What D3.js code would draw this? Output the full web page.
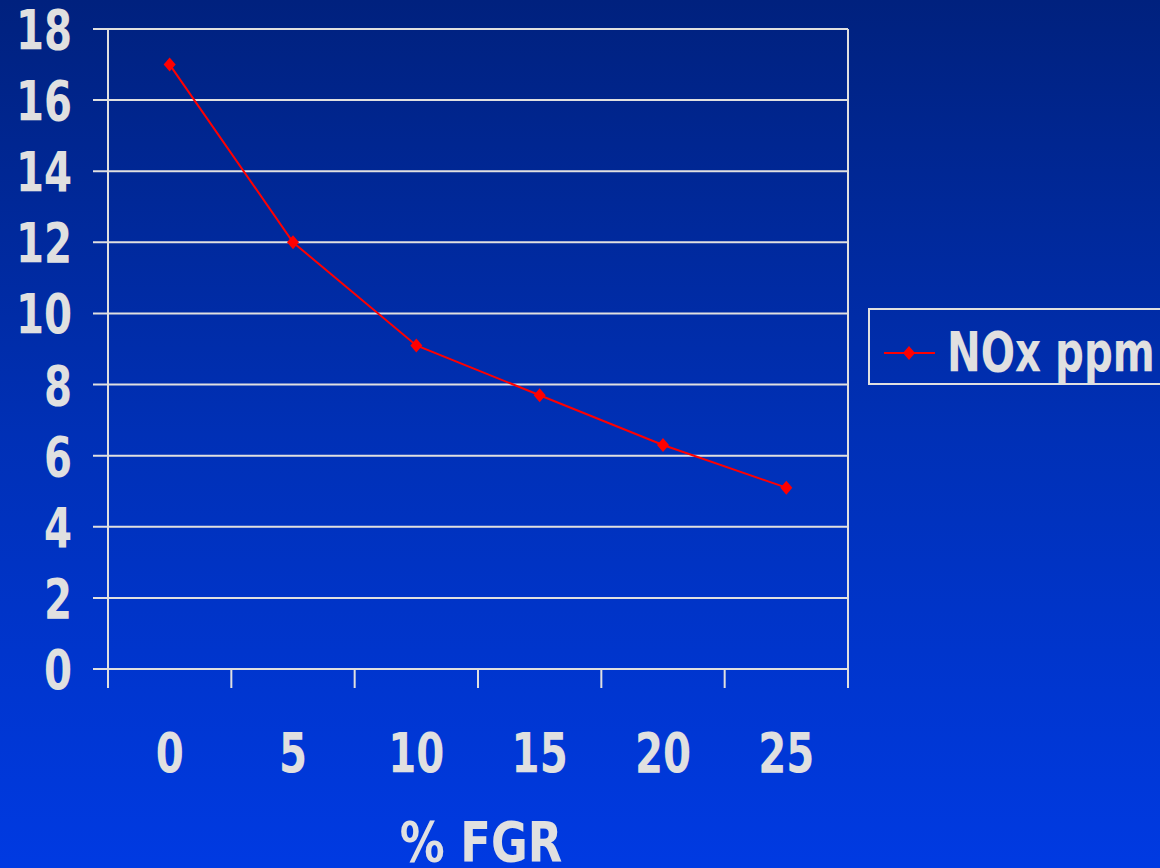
<!DOCTYPE html>
<html>
<head>
<meta charset="utf-8">
<script src="https://cdn.jsdelivr.net/npm/d3@7/dist/d3.min.js"></script>
<style>
  html, body { margin: 0; padding: 0; overflow: hidden; }
  svg { display: block; }
</style>
</head>
<body>
<script>
// NOx emissions versus flue gas recirculation
const categories = ["0", "5", "10", "15", "20", "25"];
const noxValues = [17.0, 12.0, 9.1, 7.7, 6.3, 5.1];
const yTicks = [0, 2, 4, 6, 8, 10, 12, 14, 16, 18];
const seriesName = "NOx ppm";
const xTitle = "% FGR";

const W = 1160, H = 868;
const plot = { left: 108, right: 848, top: 29, bottom: 669 };
const ink = "#e0e0e0";
const font = "'DejaVu Sans', Verdana, sans-serif";

const svg = d3.select("body").append("svg").attr("width", W).attr("height", H);

const defs = svg.append("defs");
const grad = defs.append("linearGradient").attr("id", "bg").attr("x1", 0).attr("y1", 0).attr("x2", 0).attr("y2", 1);
grad.append("stop").attr("offset", "0%").attr("stop-color", "#00217e");
grad.append("stop").attr("offset", "50%").attr("stop-color", "#0030b6");
grad.append("stop").attr("offset", "100%").attr("stop-color", "#003ae2");
svg.append("rect").attr("width", W).attr("height", H).attr("fill", "url(#bg)");

const x = d3.scaleBand().domain(categories).range([plot.left, plot.right]);
const y = d3.scaleLinear().domain([0, 18]).range([plot.bottom, plot.top]);

// horizontal gridlines with outward ticks
svg.append("g").selectAll("line").data(yTicks).join("line")
  .attr("x1", plot.left - 15).attr("x2", plot.right)
  .attr("y1", d => y(d)).attr("y2", d => y(d))
  .attr("stroke", ink).attr("stroke-width", 2);

// plot frame: left axis and right border
svg.append("line").attr("x1", plot.left).attr("x2", plot.left)
  .attr("y1", plot.top).attr("y2", plot.bottom + 19)
  .attr("stroke", ink).attr("stroke-width", 2);
svg.append("line").attr("x1", plot.right).attr("x2", plot.right)
  .attr("y1", plot.top).attr("y2", plot.bottom + 19)
  .attr("stroke", ink).attr("stroke-width", 2);

// category boundary ticks below the x axis
const bounds = categories.map(c => x(c)).slice(1);
svg.append("g").selectAll("line").data(bounds).join("line")
  .attr("x1", d => d).attr("x2", d => d)
  .attr("y1", plot.bottom).attr("y2", plot.bottom + 19)
  .attr("stroke", ink).attr("stroke-width", 2);

function label(g, txt, px, py, anchor, size, squeeze) {
  return g.append("text")
    .attr("transform", `translate(${px},${py}) scale(${squeeze},1)`)
    .attr("text-anchor", anchor)
    .attr("font-family", font).attr("font-weight", "bold")
    .attr("font-size", size).attr("fill", ink)
    .text(txt);
}

// y tick labels
const yl = svg.append("g");
yTicks.forEach(t => label(yl, t, 72, y(t) + 20, "end", 56, 0.72));

// x tick labels
const xl = svg.append("g");
categories.forEach(c => label(xl, c, x(c) + x.bandwidth() / 2, 772, "middle", 56, 0.72));

// axis title
label(svg, xTitle, (plot.left + plot.right) / 2 + 3, 861, "middle", 56, 0.8);

// series line and markers
const line = d3.line()
  .x((d, i) => x(categories[i]) + x.bandwidth() / 2)
  .y(d => y(d));
svg.append("path").datum(noxValues).attr("d", line)
  .attr("fill", "none").attr("stroke", "#ff0000").attr("stroke-width", 2);

const diamond = "M0,-7L6,0L0,7L-6,0Z";
svg.append("g").selectAll("path").data(noxValues).join("path")
  .attr("d", diamond)
  .attr("transform", (d, i) => `translate(${x(categories[i]) + x.bandwidth() / 2},${y(d)})`)
  .attr("fill", "#ff0000");

// legend
const lg = svg.append("g");
lg.append("rect").attr("x", 869).attr("y", 309).attr("width", 320).attr("height", 75)
  .attr("fill", "none").attr("stroke", ink).attr("stroke-width", 2);
lg.append("line").attr("x1", 884).attr("x2", 935).attr("y1", 353).attr("y2", 353)
  .attr("stroke", "#ff0000").attr("stroke-width", 2);
lg.append("path").attr("d", diamond).attr("transform", "translate(909,353)").attr("fill", "#ff0000");
label(lg, seriesName, 947, 371, "start", 56, 0.72);
</script>
</body>
</html>
